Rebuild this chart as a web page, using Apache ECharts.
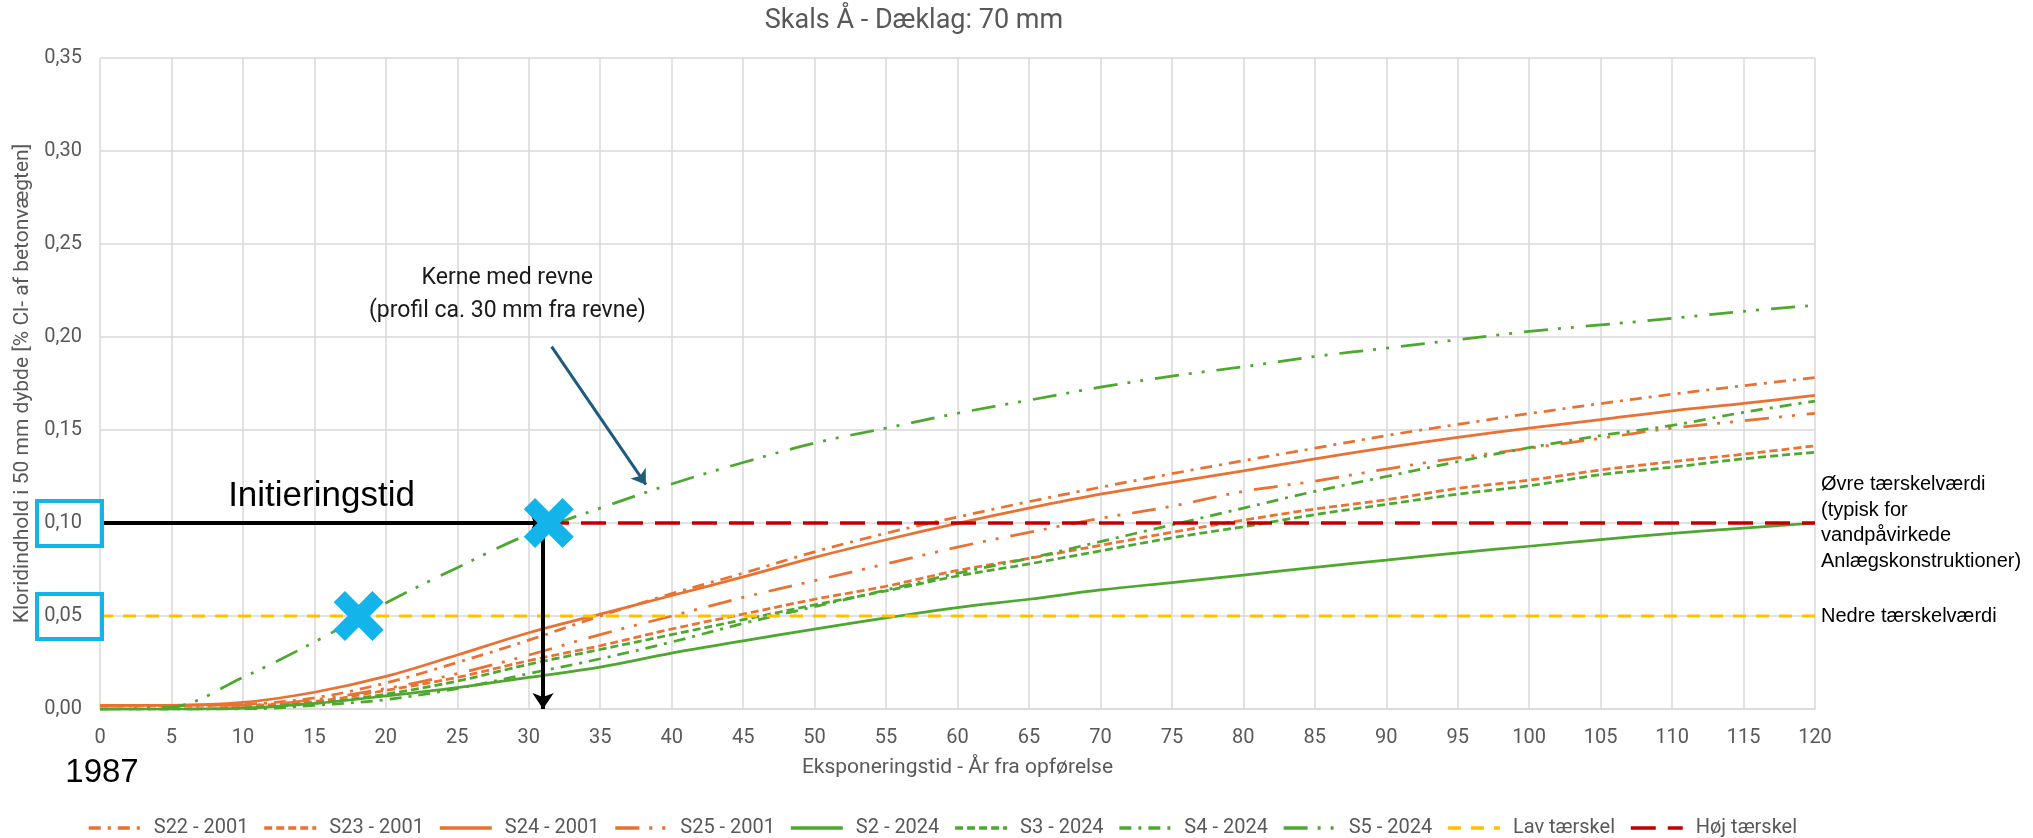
<!DOCTYPE html>
<html>
<head>
<meta charset="utf-8">
<script src="https://cdn.jsdelivr.net/npm/echarts@6/dist/echarts.min.js"></script>
<style>
  html, body { margin: 0; padding: 0; background: #fff; }
  #chart { width: 2033px; height: 838px; }
</style>
</head>
<body>
<div id="chart"></div>
<script>
// Exposure time in years since construction
const years = [0, 5, 10, 15, 20, 25, 30, 35, 40, 45, 50, 55, 60, 65, 70, 75, 80, 85, 90, 95, 100, 105, 110, 115, 120];

// Chloride content at 50 mm depth [% Cl- of concrete weight]
const s22_2001 = [0.002, 0.002, 0.0025, 0.006, 0.014, 0.025, 0.037, 0.050, 0.062, 0.073, 0.0845, 0.0945, 0.1032, 0.1115, 0.1192, 0.1265, 0.1335, 0.1402, 0.147, 0.153, 0.1588, 0.1642, 0.1692, 0.1738, 0.1782];
const s23_2001 = [0.002, 0.002, 0.002, 0.004, 0.010, 0.017, 0.026, 0.034, 0.043, 0.051, 0.059, 0.066, 0.0745, 0.081, 0.088, 0.095, 0.1015, 0.1075, 0.1125, 0.1186, 0.123, 0.1285, 0.133, 0.137, 0.1415];
const s24_2001 = [0.002, 0.002, 0.0035, 0.009, 0.0175, 0.029, 0.041, 0.051, 0.061, 0.071, 0.0815, 0.091, 0.0998, 0.108, 0.1155, 0.1218, 0.128, 0.1345, 0.1405, 0.146, 0.151, 0.1556, 0.1603, 0.1643, 0.1686];
const s25_2001 = [0.002, 0.002, 0.002, 0.005, 0.011, 0.019, 0.029, 0.040, 0.050, 0.060, 0.069, 0.078, 0.087, 0.095, 0.1025, 0.109, 0.117, 0.1225, 0.129, 0.135, 0.1402, 0.1455, 0.151, 0.155, 0.159];
const s2_2024 = [0, 0, 0.0005, 0.003, 0.007, 0.0115, 0.017, 0.0225, 0.030, 0.0366, 0.043, 0.049, 0.0545, 0.059, 0.064, 0.068, 0.072, 0.0762, 0.080, 0.084, 0.0875, 0.091, 0.0944, 0.0972, 0.100];
const s3_2024 = [0, 0, 0.0005, 0.003, 0.008, 0.015, 0.024, 0.032, 0.040, 0.048, 0.056, 0.0635, 0.0715, 0.078, 0.085, 0.092, 0.098, 0.1045, 0.110, 0.1155, 0.120, 0.126, 0.130, 0.1345, 0.138];
const s4_2024 = [0, 0, 0, 0.002, 0.005, 0.011, 0.019, 0.027, 0.036, 0.046, 0.055, 0.064, 0.073, 0.081, 0.090, 0.099, 0.108, 0.117, 0.125, 0.133, 0.1405, 0.147, 0.1525, 0.1595, 0.1655];
const s5_2024 = [0, 0.001, 0.017, 0.036, 0.057, 0.076, 0.094, 0.108, 0.121, 0.1325, 0.143, 0.151, 0.159, 0.166, 0.173, 0.179, 0.184, 0.1895, 0.194, 0.1985, 0.203, 0.2065, 0.210, 0.2138, 0.217];

// Threshold values
const lowThreshold = 0.05;
const highThreshold = 0.10;

// Years at which the cracked core reaches the thresholds
const thresholdHits = [[18.1, 0.05], [31.4, 0.10]];
const initiationYear = 31;

// Pointer from the note to the cracked-core curve: [year, value] start and end
const notePointer = [[31.6, 0.1948], [38.2, 0.1206]];
const noteAnchor = [28.5, 0.2227];

const FONT = 'Roboto, "Noto Sans", sans-serif';
const ARIAL = '"Liberation Sans", Arial, sans-serif';
const ORANGE = '#e97132';
const GREEN = '#4ea72e';
const CYAN = '#12b4ea';

const pairs = vals => years.map((x, i) => [x, vals[i]]);

const dashDot = [12, 7, 3, 7];
const shortDash = [8, 4];
const longDashDotDot = [24, 10, 3, 10, 3, 12];

const curveDefs = [
  { name: 'S22 - 2001', data: s22_2001, color: ORANGE, type: dashDot },
  { name: 'S23 - 2001', data: s23_2001, color: ORANGE, type: shortDash },
  { name: 'S24 - 2001', data: s24_2001, color: ORANGE, type: 'solid' },
  { name: 'S25 - 2001', data: s25_2001, color: ORANGE, type: longDashDotDot },
  { name: 'S2 - 2024', data: s2_2024, color: GREEN, type: 'solid' },
  { name: 'S3 - 2024', data: s3_2024, color: GREEN, type: shortDash },
  { name: 'S4 - 2024', data: s4_2024, color: GREEN, type: dashDot },
  { name: 'S5 - 2024', data: s5_2024, color: GREEN, type: longDashDotDot }
];

const series = curveDefs.map(d => ({
  name: d.name,
  type: 'line',
  data: pairs(d.data),
  smooth: 0.35,
  showSymbol: false,
  symbol: 'none',
  color: d.color,
  lineStyle: { color: d.color, width: 2.75, type: d.type, cap: 'butt' },
  z: 3
}));

series.push({
  name: 'Lav tærskel', type: 'line', showSymbol: false, symbol: 'none',
  data: [[0, lowThreshold], [120, lowThreshold]],
  color: '#ffc000',
  lineStyle: { color: '#ffc000', width: 3, type: [13, 10] }, z: 4
});
series.push({
  name: 'Høj tærskel', type: 'line', showSymbol: false, symbol: 'none',
  data: [[0, highThreshold], [120, highThreshold]],
  color: '#c00000',
  lineStyle: { color: '#c00000', width: 3.5, type: [25, 12] }, z: 4
});

// Initiation-time arrows
series.push({
  type: 'lines', coordinateSystem: 'cartesian2d', z: 6,
  symbol: ['none', 'arrow'], symbolSize: 16,
  lineStyle: { color: '#000', width: 4, opacity: 1, curveness: 0 },
  data: [
    { coords: [[0, highThreshold], [initiationYear + 0.2, highThreshold]] },
    { coords: [[initiationYear, highThreshold - 0.004], [initiationYear, 0.0]] }
  ],
  silent: true
});
// Note pointer
series.push({
  type: 'lines', coordinateSystem: 'cartesian2d', z: 6,
  symbol: ['none', 'arrow'], symbolSize: 14,
  lineStyle: { color: '#1d5c7c', width: 3, opacity: 1, curveness: 0 },
  data: [{ coords: notePointer }],
  silent: true
});
// Threshold crossings
series.push({
  type: 'scatter', z: 8,
  symbol: 'path://M4.5,0 L10,5.5 L15.5,0 L20,4.5 L14.5,10 L20,15.5 L15.5,20 L10,14.5 L4.5,20 L0,15.5 L5.5,10 L0,4.5 Z',
  symbolSize: 50,
  itemStyle: { color: CYAN, opacity: 1 },
  data: thresholdHits,
  silent: true
});

const tickText = { fontFamily: FONT, fontSize: 20, color: '#595959' };
const nameText = { fontFamily: FONT, fontSize: 21, color: '#595959' };

const option = {
  animation: false,
  backgroundColor: '#ffffff',
  title: {
    text: 'Skals Å - Dæklag: 70 mm',
    left: 914, top: 8, textAlign: 'center', padding: 0,
    textStyle: { fontFamily: FONT, fontSize: 27, fontWeight: 'normal', color: '#595959' }
  },
  grid: { left: 100, right: 218, top: 58, bottom: 129, containLabel: false, outerBoundsMode: 'none' },
  xAxis: {
    type: 'value', min: 0, max: 120, interval: 5,
    name: 'Eksponeringstid - År fra opførelse',
    nameLocation: 'middle', nameGap: 48,
    nameTextStyle: nameText,
    axisLine: { show: true, lineStyle: { color: '#d9d9d9', width: 1.5 } },
    axisTick: { show: false },
    axisLabel: Object.assign({ margin: 19 }, tickText),
    splitLine: { show: true, lineStyle: { color: '#d9d9d9', width: 1.5 } }
  },
  yAxis: {
    type: 'value', min: 0, max: 0.35, interval: 0.05,
    name: 'Kloridindhold i 50 mm dybde [% Cl- af betonvægten]',
    nameLocation: 'middle', nameGap: 64,
    nameTextStyle: nameText,
    axisLine: { show: false },
    axisTick: { show: false },
    axisLabel: Object.assign({ margin: 18, formatter: v => v.toFixed(2).replace('.', ',') }, tickText),
    splitLine: { show: true, lineStyle: { color: '#d9d9d9', width: 1.5 } }
  },
  legend: {
    left: 82, top: 813,
    itemWidth: 52, itemHeight: 14, itemGap: 14,
    itemStyle: { opacity: 0 },
    lineStyle: { width: 3.5 },
    data: curveDefs.map(d => d.name).concat(['Lav tærskel', 'Høj tærskel']),
    textStyle: { fontFamily: FONT, fontSize: 20, color: '#595959', padding: [0, 0, 0, 8] }
  },
  series: series
};

const chart = echarts.init(document.getElementById('chart'), null, { renderer: 'canvas' });
chart.setOption(option);

// Annotation texts and highlight boxes placed from axis coordinates
const px = p => chart.convertToPixel({ gridIndex: 0 }, p);
const origin = px([0, 0]);
const hi = px([0, highThreshold]);
const lo = px([0, lowThreshold]);
const right = px([120, highThreshold]);
const initText = px([15.5, highThreshold]);
const note = px(noteAnchor);

const box = y => ({
  type: 'rect', z: 20,
  shape: { x: origin[0] - 63, y: y - 22, width: 65, height: 45 },
  style: { fill: 'none', stroke: CYAN, lineWidth: 4 }
});

chart.setOption({
  graphic: [
    box(hi[1]),
    box(lo[1]),
    {
      type: 'text', z: 20, x: initText[0], y: hi[1] - 27,
      style: { text: 'Initieringstid', font: '35px ' + ARIAL, fill: '#000', align: 'center', verticalAlign: 'middle' }
    },
    {
      type: 'text', z: 20, x: origin[0] + 2, y: origin[1] + 64,
      style: { text: '1987', font: '33px ' + ARIAL, fill: '#000', align: 'center', verticalAlign: 'middle' }
    },
    {
      type: 'text', z: 20, x: note[0], y: note[1],
      style: { text: 'Kerne med revne\n(profil ca. 30 mm fra revne)', font: '23px ' + FONT, fill: '#1a1a1a', align: 'center', verticalAlign: 'middle', lineHeight: 33 }
    },
    {
      type: 'text', z: 20, x: right[0] + 6, y: right[1],
      style: { text: 'Øvre tærskelværdi\n(typisk for\nvandpåvirkede\nAnlægskonstruktioner)', font: '20px ' + ARIAL, fill: '#000', align: 'left', verticalAlign: 'middle', lineHeight: 25.5 }
    },
    {
      type: 'text', z: 20, x: right[0] + 6, y: lo[1],
      style: { text: 'Nedre tærskelværdi', font: '20px ' + ARIAL, fill: '#000', align: 'left', verticalAlign: 'middle' }
    }
  ]
});
</script>
</body>
</html>
